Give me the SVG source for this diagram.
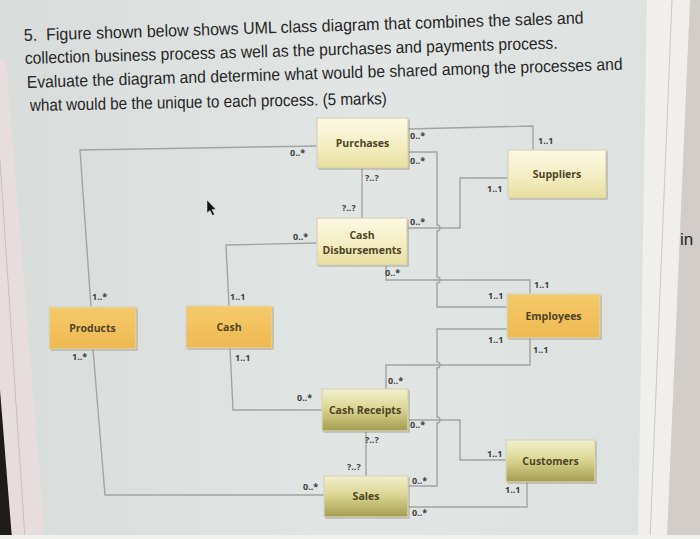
<svg xmlns="http://www.w3.org/2000/svg" width="700" height="539" viewBox="0 0 700 539">
<defs>
<linearGradient id="bg" x1="0" y1="0" x2="1" y2="0">
<stop offset="0" stop-color="#d8dddc"/><stop offset="0.5" stop-color="#e1e5e4"/><stop offset="1" stop-color="#dde2e1"/>
</linearGradient>
<linearGradient id="gLight" x1="0" y1="0" x2="0" y2="1">
<stop offset="0" stop-color="#fcf9e4"/><stop offset="0.5" stop-color="#f5efc6"/><stop offset="1" stop-color="#e8de9e"/>
</linearGradient>
<linearGradient id="gOrange" x1="0" y1="0" x2="0" y2="1">
<stop offset="0" stop-color="#f5ca6a"/><stop offset="1" stop-color="#eeb952"/>
</linearGradient>
<linearGradient id="gOlive" x1="0" y1="0" x2="0" y2="1">
<stop offset="0" stop-color="#f1f0cf"/><stop offset="0.45" stop-color="#dcd794"/><stop offset="1" stop-color="#a49d50"/>
</linearGradient>
<style>
.ln{fill:none;stroke:#a2a4a3;stroke-width:1.4}
.sh{fill:#6f6b5c;opacity:0.55}
.bx{stroke:#d9d4ba;stroke-width:1.3}
.lbl{font-family:"Open Sans","DejaVu Sans",sans-serif;font-size:10.5px;font-weight:bold;fill:#4f4427;text-anchor:middle}
.m{font-family:"Open Sans","DejaVu Sans",sans-serif;font-size:9px;font-weight:bold;fill:#3c3c3c}
.q{font-family:"Liberation Sans",Arial,sans-serif;font-size:17px;fill:#262626}
</style>
</defs>
<rect x="0" y="0" width="700" height="539" fill="url(#bg)"/>
<polygon points="0,60 6,60 45,539 0,539" fill="#e8dddd"/>
<line x1="0" y1="160" x2="25" y2="539" stroke="#cbbfbf" stroke-width="1"/>
<polygon points="0,390 12,539 0,539" fill="#1f1b1b"/>
<polygon points="647,0 690,0 667,539 638,539" fill="#f1efeb"/>
<polygon points="690,0 700,0 700,539 667,539" fill="#d2cdc9"/>
<line x1="672" y1="0" x2="650" y2="539" stroke="#cdc8c3" stroke-width="1"/>
<rect x="0" y="535" width="700" height="4" fill="#f0f0ee"/>
<text class="q" x="680" y="245">in</text>

<g id="question">
<text class="q" x="24" y="41" textLength="560" lengthAdjust="spacingAndGlyphs" transform="rotate(-1.8 24 41)">5.&#160;&#160;Figure shown below shows UML class diagram that combines the sales and</text>
<text class="q" x="25" y="64" textLength="533" lengthAdjust="spacingAndGlyphs" transform="rotate(-1.65 25 64)">collection business process as well as the purchases and payments process.</text>
<text class="q" x="27" y="88" textLength="596" lengthAdjust="spacingAndGlyphs" transform="rotate(-1.75 27 88)">Evaluate the diagram and determine what would be shared among the processes and</text>
<text class="q" x="30" y="111" textLength="357" lengthAdjust="spacingAndGlyphs" transform="rotate(-1.1 30 111)">what would be the unique to each process. (5 marks)</text>
</g>

<g id="connectors">
<path class="ln" d="M317,146 L80,150 L91,307"/>
<path class="ln" d="M317,243 L226,245 L229,306"/>
<path class="ln" d="M362,168 V218"/>
<path class="ln" d="M408,129 L533,126 V150"/>
<path class="ln" d="M408,152 H437 V225 A3,3 0 0 1 437,231 V277 A3,3 0 0 1 437,283 V307 H507"/>
<path class="ln" d="M407,228 H460 V178 H508"/>
<path class="ln" d="M386,265 V280 H530 V294"/>
<path class="ln" d="M507,329 H437 V362 A3,3 0 0 1 437,368 V417 A3,3 0 0 1 437,423 V486 H408"/>
<path class="ln" d="M530,338 V365 H386 V389"/>
<path class="ln" d="M408,420 H460 V460 H506"/>
<path class="ln" d="M366,431 V476"/>
<path class="ln" d="M408,507 H527 V482"/>
<path class="ln" d="M324,495 H105 L93,349"/>
<path class="ln" d="M322,410 H233 L230,348"/>
</g>

<g id="multiplicities">
<text class="m" x="290" y="156">0..*</text>
<text class="m" x="92" y="300">1..*</text>
<text class="m" x="293" y="240">0..*</text>
<text class="m" x="230" y="300">1..1</text>
<text class="m" x="365" y="181">?..?</text>
<text class="m" x="342" y="211">?..?</text>
<text class="m" x="410" y="139">0..*</text>
<text class="m" x="538" y="144">1..1</text>
<text class="m" x="410" y="164">0..*</text>
<text class="m" x="487" y="192">1..1</text>
<text class="m" x="410" y="225">0..*</text>
<text class="m" x="385" y="276">0..*</text>
<text class="m" x="534" y="288">1..1</text>
<text class="m" x="488" y="299">1..1</text>
<text class="m" x="488" y="343">1..1</text>
<text class="m" x="533" y="353">1..1</text>
<text class="m" x="388" y="384">0..*</text>
<text class="m" x="297" y="401">0..*</text>
<text class="m" x="72" y="360">1..*</text>
<text class="m" x="235" y="361">1..1</text>
<text class="m" x="410" y="428">0..*</text>
<text class="m" x="365" y="443">?..?</text>
<text class="m" x="347" y="470">?..?</text>
<text class="m" x="487" y="457">1..1</text>
<text class="m" x="303" y="490">0..*</text>
<text class="m" x="412" y="484">0..*</text>
<text class="m" x="505" y="493">1..1</text>
<text class="m" x="412" y="516">0..*</text>
</g>

<g id="purchases">
<rect class="sh" x="318.5" y="119.5" width="91" height="50"/>
<rect class="bx" x="317" y="118" width="91" height="50" fill="url(#gLight)"/>
<text class="lbl" x="362.5" y="147">Purchases</text>
</g>
<g id="suppliers">
<rect class="sh" x="509.5" y="151.5" width="98" height="48"/>
<rect class="bx" x="508" y="150" width="98" height="48" fill="url(#gLight)"/>
<text class="lbl" x="557" y="178">Suppliers</text>
</g>
<g id="cash-disbursements">
<rect class="sh" x="318.5" y="219.5" width="90" height="47"/>
<rect class="bx" x="317" y="218" width="90" height="47" fill="url(#gLight)"/>
<text class="lbl" x="362" y="239">Cash</text>
<text class="lbl" x="362" y="254">Disbursements</text>
</g>
<g id="products">
<rect class="sh" x="50.5" y="308.5" width="87" height="42"/>
<rect class="bx" x="49" y="307" width="87" height="42" fill="url(#gOrange)"/>
<text class="lbl" x="92.5" y="332">Products</text>
</g>
<g id="cash">
<rect class="sh" x="187.5" y="307.5" width="86" height="42"/>
<rect class="bx" x="186" y="306" width="86" height="42" fill="url(#gOrange)"/>
<text class="lbl" x="229" y="331">Cash</text>
</g>
<g id="employees">
<rect class="sh" x="508.5" y="295.5" width="93" height="44"/>
<rect class="bx" x="507" y="294" width="93" height="44" fill="url(#gOrange)"/>
<text class="lbl" x="553.5" y="320">Employees</text>
</g>
<g id="cash-receipts">
<rect class="sh" x="323.5" y="390.5" width="86" height="42"/>
<rect class="bx" x="322" y="389" width="86" height="42" fill="url(#gOlive)"/>
<text class="lbl" x="365" y="414">Cash Receipts</text>
</g>
<g id="sales">
<rect class="sh" x="325.5" y="477.5" width="84" height="41"/>
<rect class="bx" x="324" y="476" width="84" height="41" fill="url(#gOlive)"/>
<text class="lbl" x="366" y="500">Sales</text>
</g>
<g id="customers">
<rect class="sh" x="507.5" y="441.5" width="89" height="42"/>
<rect class="bx" x="506" y="440" width="89" height="42" fill="url(#gOlive)"/>
<text class="lbl" x="550.5" y="465">Customers</text>
</g>

<polygon points="207,200 207,213 210,210.5 212.5,215.5 214.5,214.5 212,209.5 216,209.5" fill="#111" stroke="#eee" stroke-width="0.5"/>
</svg>
